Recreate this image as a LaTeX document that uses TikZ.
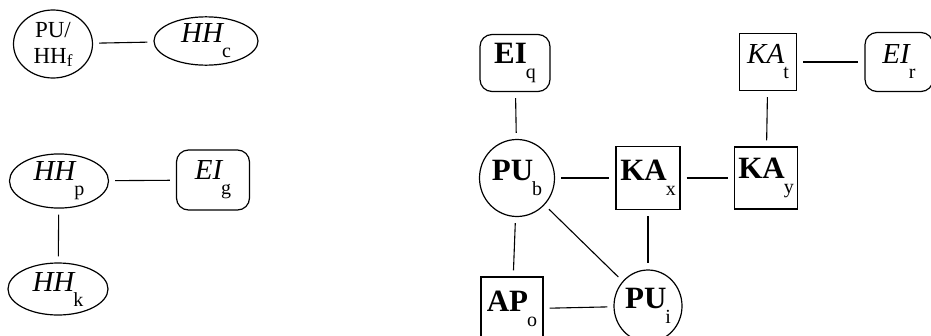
\documentclass[tikz,border=0pt]{standalone}
\usepackage{fontspec}
\setmainfont{Liberation Serif}
\usetikzlibrary{shapes.geometric}
% lowered upright index letter set after a label
\newcommand{\idx}[1]{\kern-1pt\raisebox{-15pt}{\fontsize{20}{20}\normalfont\selectfont #1}}
\begin{document}
\begin{tikzpicture}[x=1pt,y=-1pt,
  every node/.style={draw, line width=1.2pt, inner sep=0pt},
  oval/.style={ellipse},
  rbox/.style={rectangle, rounded corners=12pt},
  sbox/.style={rectangle},
  it/.style={font=\fontsize{29}{31}\selectfont\itshape},
  bf/.style={font=\fontsize{31}{33}\selectfont\bfseries},
  link/.style={line width=1.1pt, shorten >=6pt, shorten <=6pt}]
\useasboundingbox (0,0) rectangle (931,335);

% left group
\node[oval, minimum width=79pt, minimum height=68pt, align=center,
      font=\fontsize{23}{26}\selectfont] (f) at (53,44) {PU/\\HH\raisebox{-3pt}{\fontsize{17}{17}\selectfont f}};
\node[oval, it, minimum width=104pt, minimum height=48pt] (c) at (206,41) {HH\idx{c}};
\node[oval, it, minimum width=99pt, minimum height=50pt] (p) at (59,181) {HH\idx{p}};
\node[rbox, it, minimum width=73pt, minimum height=60pt] (g) at (213,180) {EI\idx{g}};
\node[oval, it, minimum width=100pt, minimum height=52pt] (k) at (58,289) {HH\idx{k}};

% right group
\node[rbox, bf, minimum width=70pt, minimum height=57pt] (q) at (515,63) {EI\idx{q}};
\node[oval, bf, minimum width=75pt, minimum height=77pt] (b) at (517,178) {PU\idx{b}};
\node[sbox, bf, minimum width=64pt, minimum height=63pt] (x) at (648,178) {KA\idx{x}};
\node[sbox, bf, minimum width=63pt, minimum height=62pt] (y) at (766,178) {KA\idx{y}};
\node[sbox, it, minimum width=57pt, minimum height=57pt] (t) at (768,62) {KA\idx{t}};
\node[rbox, it, minimum width=68pt, minimum height=59pt] (r) at (899,62) {EI\idx{r}};
\node[sbox, bf, minimum width=62pt, minimum height=64pt] (o) at (512,309) {AP\idx{o}};
\node[oval, bf, minimum width=68pt, minimum height=72pt] (i) at (648,306) {PU\idx{i}};

% connectors
\draw[link] (f) -- (c);
\draw[link] (p) -- (g);
\draw[link] (p) -- (k);
\draw[link] (q) -- (b);
\draw[link] (b) -- (x);
\draw[link] (x) -- (y);
\draw[link] (y) -- (t);
\draw[link] (t) -- (r);
\draw[link] (b) -- (o);
\draw[link] (o) -- (i);
\draw[link] (x) -- (i);
\draw[link] (b) -- (i);
\end{tikzpicture}
\end{document}
